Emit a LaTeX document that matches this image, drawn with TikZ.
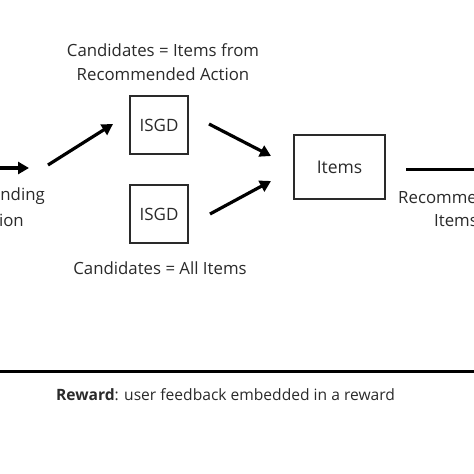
\documentclass[tikz,border=0pt]{standalone}
\usepackage{fontspec}
\setmainfont{Open Sans}
\usetikzlibrary{arrows.meta}
\definecolor{txt}{HTML}{2A2A2A}
\tikzset{
  lbl/.style={text=txt,font=\fontsize{16.8}{24.5}\selectfont,align=center,inner sep=0pt},
  boxn/.style={draw=txt,line width=1.6pt,minimum width=58pt,minimum height=58pt,inner sep=0pt,text=txt,font=\fontsize{17}{20}\selectfont},
  arr/.style={line width=3.2pt,-{Triangle[length=11pt,width=12pt]}},
  ln/.style={line width=3pt}
}
\begin{document}
\begin{tikzpicture}[x=1pt,y=-1pt]
\useasboundingbox (0,0) rectangle (474,474);
\clip (0,0) rectangle (474,474);
\fill[white] (0,0) rectangle (474,474);
% nodes
\node[boxn] (isgd1) at (159,125) {ISGD};
\node[boxn] (isgd2) at (159,214) {ISGD};
\node[boxn,minimum width=91pt,minimum height=64pt,font=\fontsize{17.5}{20}\selectfont] (items) at (339.5,167) {Items};
\node[lbl] (ctop) at (163,62) {Candidates = Items from\\Recommended Action};
\node[lbl] (cbot) at (160,268) {Candidates = All Items};
\node[lbl,anchor=east] (recing1) at (45,196) {Recommending};
\node[lbl,anchor=east] (recing2) at (24,220) {Action};
\node[lbl,anchor=west] (recit1) at (398,197) {Recommended};
\node[lbl,anchor=west] (recit2) at (434,221) {Items};
\node[lbl,font=\fontsize{15.6}{20}\selectfont] (reward) at (225.5,395) {\textbf{Reward}: user feedback embedded in a reward};
% connector coordinates
\coordinate (l0) at (-2,168);
\coordinate (l1) at (29,168);
\coordinate (a0) at (48,165);
\coordinate (a1) at (113,124);
\coordinate (b0) at (209,124);
\coordinate (b1) at (271,156);
\coordinate (c0) at (210,214);
\coordinate (c1) at (271,181);
\coordinate (r0) at (406,169);
\coordinate (r1) at (480,169);
\coordinate (h0) at (-2,371);
\coordinate (h1) at (476,371);
% connectors
\draw[arr] (l0) -- (l1);
\draw[arr] (a0) -- (a1);
\draw[arr] (b0) -- (b1);
\draw[arr] (c0) -- (c1);
\draw[ln] (r0) -- (r1);
\draw[ln] (h0) -- (h1);
\end{tikzpicture}
\end{document}
